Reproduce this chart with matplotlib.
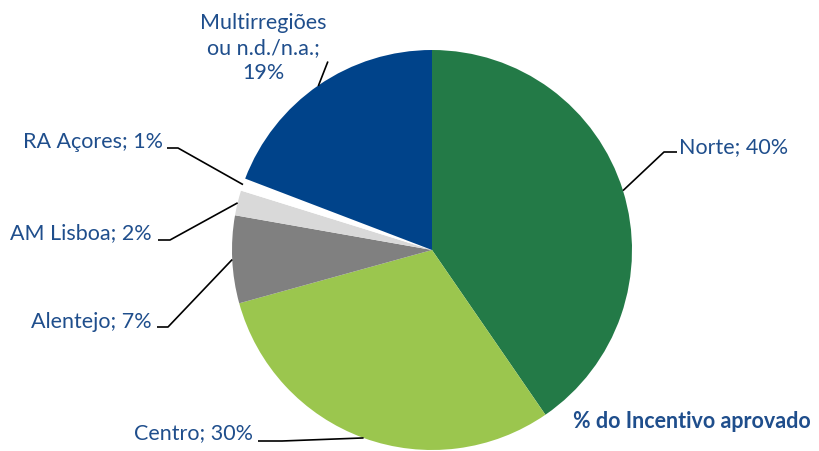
import numpy as np
import matplotlib.pyplot as plt

# Distribuição do incentivo aprovado por região
regioes = ['Norte', 'Centro', 'Alentejo', 'AM Lisboa', 'RA Açores', 'Multirregiões\nou n.d./n.a.']
valores = [40, 30, 7, 2, 1, 19]
cores = ['#237A47', '#9BC64E', '#808080', '#D9D9D9', '#FFFFFF', '#00438A']

TXT = '#1F4E8C'
plt.rcParams['font.family'] = ['Lato', 'DejaVu Sans']

fig = plt.figure(figsize=(8.19, 4.51), dpi=100)
ax = fig.add_axes([0, 0, 1, 1])

wedges, _ = ax.pie(valores, colors=cores, startangle=90, counterclock=False,
                   radius=1.0, center=(0, 0), wedgeprops=dict(linewidth=0))

ax.set_xlim(-2.16, 1.935)
ax.set_ylim(-1.005, 1.25)
ax.set_aspect('equal')
ax.axis('off')

FS = 15.5

# (texto x, texto y, alinhamento, cotovelo x, cotovelo y, fim horizontal x)
layout = [
    (1.235, 0.515, 'left', 1.16, 0.49, 1.225),
    (-0.895, -0.915, 'right', -0.75, -0.955, -0.87),
    (-1.40, -0.36, 'right', -1.32, -0.385, -1.375),
    (-1.40, 0.085, 'right', -1.31, 0.05, -1.37),
    (-1.345, 0.54, 'right', -1.27, 0.51, -1.325),
]

for w, nome, v, lay in zip(wedges, regioes, valores, layout):
    ang = np.deg2rad((w.theta1 + w.theta2) / 2)
    ex, ey = np.cos(ang), np.sin(ang)
    tx, ty, ha, cx, cy, hx = lay
    ax.plot([ex, cx, hx], [ey, cy, cy], color='black', lw=1.2, solid_capstyle='butt')
    ax.text(tx, ty, f'{nome}; {v}%', ha=ha, va='center', fontsize=FS, color=TXT)

# Multirregiões: rótulo por cima
w = wedges[5]
ang = np.deg2rad((w.theta1 + w.theta2) / 2)
ex, ey = np.cos(ang), np.sin(ang)
ax.plot([ex, ex + 0.045], [ey, ey + 0.115], color='black', lw=1.2)
ax.text(-0.845, 1.01, f'{regioes[5]};\n{valores[5]}%', ha='center', va='center',
        fontsize=FS, color=TXT, linespacing=1.32)

ax.text(0.705, -0.86, '% do Incentivo aprovado', ha='left', va='center',
        fontsize=15.5, fontweight='bold', color=TXT)

fig.savefig('out.png', dpi=100)
